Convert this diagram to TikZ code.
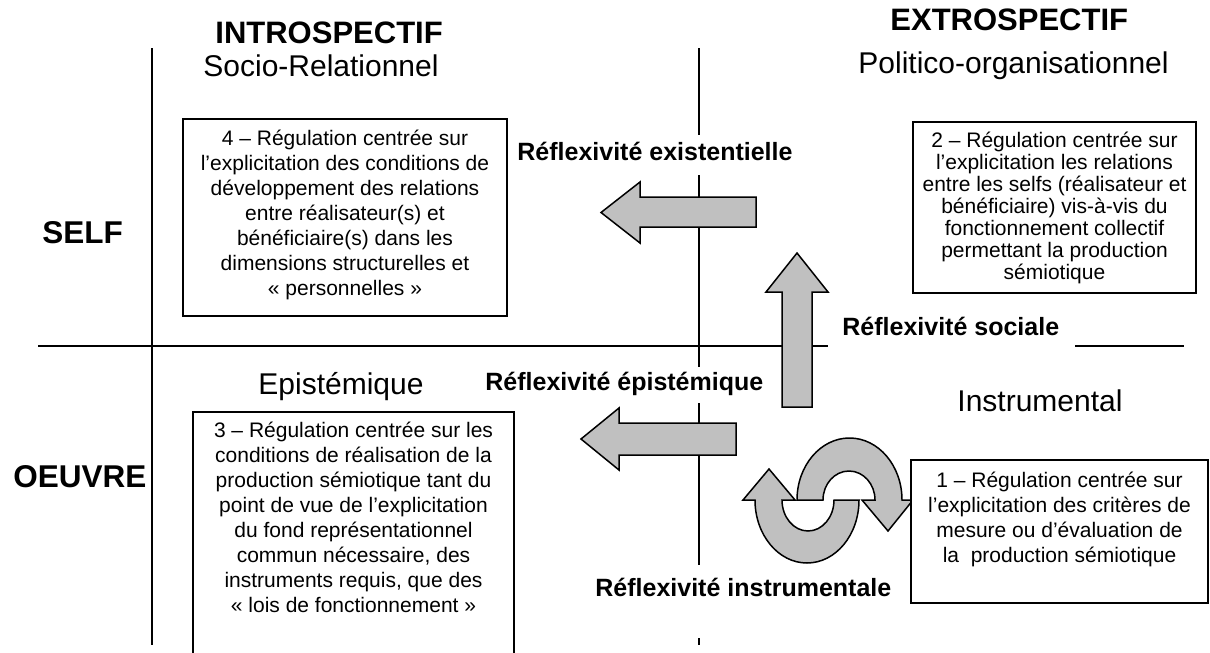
\documentclass[tikz,border=0pt]{standalone}
\usepackage{fontspec}
\setmainfont{Liberation Sans}
\definecolor{arrowgray}{RGB}{192,192,192}
\begin{document}
\begin{tikzpicture}[x=0.5pt,y=-0.5pt,
  axis/.style={line width=0.75pt},
  frame/.style={draw, line width=0.8pt, fill=white, inner sep=0pt},
  boxtext/.style={align=center, inner sep=0pt, anchor=north, font=\fontsize{10.5}{12.5}\selectfont},
  bigarrow/.style={draw, fill=arrowgray, line width=0.75pt, line join=miter},
  reflabel/.style={inner sep=0pt, anchor=base west, font=\bfseries\fontsize{12.5}{15}\selectfont},
  headtitle/.style={inner sep=0pt, anchor=base west, font=\bfseries\fontsize{15.5}{18}\selectfont},
  subtitle/.style={inner sep=0pt, anchor=base west, font=\fontsize{15}{18}\selectfont},
  rowtitle/.style={inner sep=0pt, anchor=base west, font=\bfseries\fontsize{15.75}{18}\selectfont}]

\useasboundingbox (0,0) rectangle (1210,653);
\clip (0,0) rectangle (1210,653);
\fill[white] (0,0) rectangle (1210,653);

% axes
\coordinate (vlT) at (152,48);  \coordinate (vlB) at (152,645);
\coordinate (vc1) at (699,48);  \coordinate (vc2) at (699,135);
\coordinate (vc3) at (699,175); \coordinate (vc4) at (699,367);
\coordinate (vc5) at (699,403); \coordinate (vc6) at (699,565);
\coordinate (vc7) at (699,638); \coordinate (vc8) at (699,645);
\coordinate (hL) at (38,346);   \coordinate (hM1) at (828,346);
\coordinate (hM2) at (1075,346);\coordinate (hR) at (1184,346);
\draw[axis] (vlT) -- (vlB);
\draw[axis] (vc1) -- (vc2) (vc3) -- (vc4) (vc5) -- (vc6) (vc7) -- (vc8);
\draw[axis] (hL) -- (hM1) (hM2) -- (hR);

% straight block arrows
\draw[bigarrow] (756,197) -- (640,197) -- (640,182) -- (601,212.5) -- (640,243) -- (640,227) -- (756,227) -- cycle;
\draw[bigarrow] (782,407) -- (782,292) -- (766,292) -- (797,253) -- (828,292) -- (812,292) -- (812,407) -- cycle;
\draw[bigarrow] (736,423) -- (619,423) -- (619,408) -- (581,439) -- (619,470) -- (619,455) -- (736,455) -- cycle;

% curved arrows
\draw[bigarrow] (797,500) arc[start angle=180, end angle=0, x radius=26.25pt, y radius=31pt]
  -- (913,500) -- (888,531) -- (862,500) -- (875,500)
  arc[start angle=0, end angle=180, x radius=13pt, y radius=14.5pt] -- cycle;
\draw[bigarrow] (859,500) arc[start angle=0, end angle=-180, x radius=26pt, y radius=31.5pt]
  -- (743,500) -- (769,469) -- (795,500) -- (782,500)
  arc[start angle=180, end angle=360, x radius=13pt, y radius=15.5pt] -- cycle;

% titles
\node[headtitle] (intro) at (215,43) {INTROSPECTIF};
\node[subtitle] (socio) at (203,76) {Socio-Relationnel};
\node[headtitle] (extro) at (890,31) {EXTROSPECTIF};
\node[subtitle] (polit) at (858,73) {Politico-organisationnel};
\node[rowtitle] (self) at (42,243) {SELF};
\node[rowtitle] (oeuvre) at (13,487) {OEUVRE};
\node[subtitle] (epist) at (258,394) {Epistémique};
\node[subtitle] (instr) at (957,411) {Instrumental};

% reflexivity labels
\node[reflabel] (rexi) at (517,160) {Réflexivité existentielle};
\node[reflabel] (rsoc) at (842,335) {Réflexivité sociale};
\node[reflabel] (repi) at (485,390) {Réflexivité épistémique};
\node[reflabel] (rins) at (595,596) {Réflexivité instrumentale};

% boxes
\node[frame, minimum width=162pt, minimum height=98.5pt] (f4) at (345,217.5) {};
\node[boxtext] (t4) at ([yshift=-5.5pt]f4.north) {4 – Régulation centrée sur\\l’explicitation des conditions de\\développement des relations\\entre réalisateur(s) et\\bénéficiaire(s) dans les\\dimensions structurelles et\\« personnelles »};

\node[frame, minimum width=141.5pt, minimum height=85.5pt] (f2) at (1054.5,207.5) {};
\node[boxtext, font=\fontsize{10.5}{11}\selectfont] (t2) at ([yshift=-5pt]f2.north) {2 – Régulation centrée sur\\l’explicitation les relations\\entre les selfs (réalisateur et\\bénéficiaire) vis-à-vis du\\fonctionnement collectif\\permettant la production\\sémiotique};

\node[frame, minimum width=160.5pt, minimum height=144pt] (f3) at (353.5,556) {};
\node[boxtext] (t3) at ([yshift=-5pt]f3.north) {3 – Régulation centrée sur les\\conditions de réalisation de la\\production sémiotique tant du\\point de vue de l’explicitation\\du fond représentationnel\\commun nécessaire, des\\instruments requis, que des\\« lois de fonctionnement »};

\node[frame, minimum width=148.5pt, minimum height=71.5pt] (f1) at (1059.5,531.5) {};
\node[boxtext] (t1) at ([yshift=-6pt]f1.north) {1 – Régulation centrée sur\\l’explicitation des critères de\\mesure ou d’évaluation de\\la \ production sémiotique};
\end{tikzpicture}
\end{document}
